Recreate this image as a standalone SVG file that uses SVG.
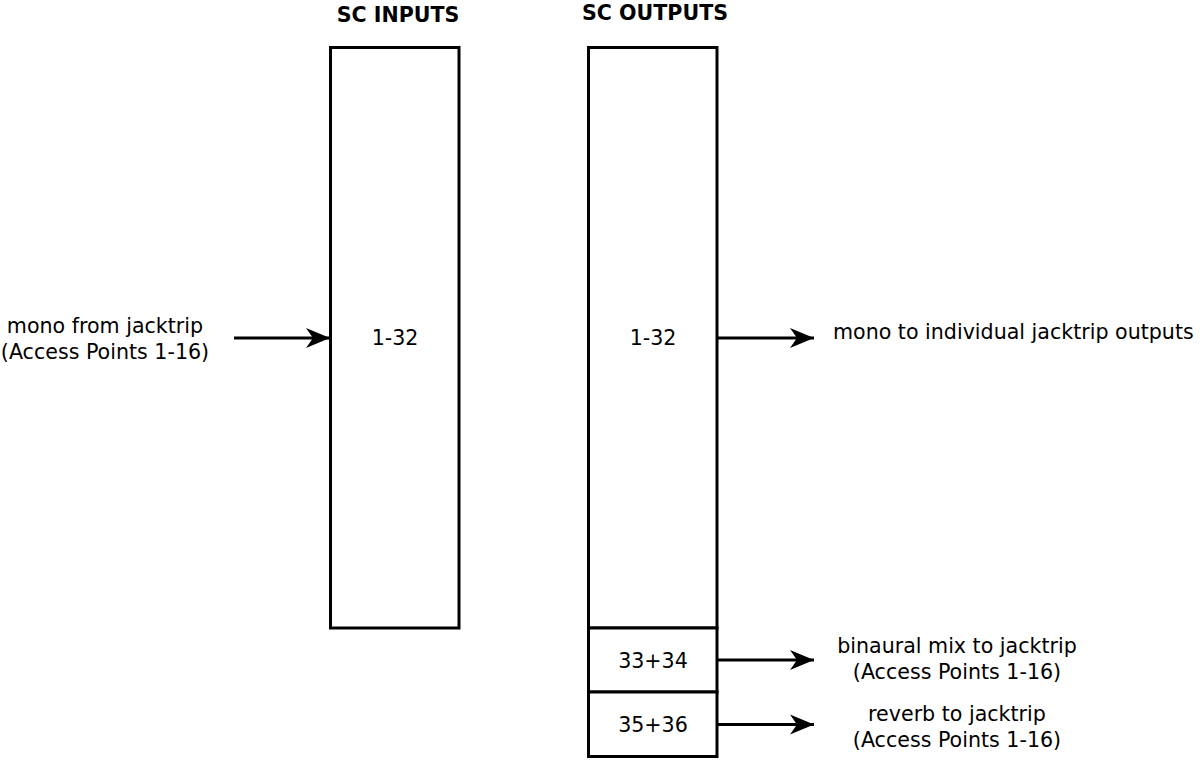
<svg xmlns="http://www.w3.org/2000/svg" width="1200" height="761" viewBox="0 0 1200 761">
<style>
.box{fill:#fff;stroke:#000;stroke-width:3}
.t{font-family:"DejaVu Sans",sans-serif;font-size:20.6px;fill:#000}
.c{text-anchor:middle}
.b{font-weight:bold}
.e{stroke:#000;stroke-width:3;fill:none}
</style>
<defs>
<marker id="ah" markerUnits="userSpaceOnUse" viewBox="0 0 26 24" refX="24" refY="12" markerWidth="26" markerHeight="24" orient="auto">
<path d="M0,2 L24,12 L0,22 L7,12 Z" fill="#000"/>
</marker>
</defs>
<rect width="1200" height="761" fill="#fff"/>
<g id="title-inputs"><text class="t c b" x="398" y="22">SC INPUTS</text></g>
<g id="title-outputs"><text class="t c b" x="655" y="20">SC OUTPUTS</text></g>
<g id="in-1-32"><rect class="box" x="330.5" y="47.5" width="128.5" height="580.5"/><text class="t c" x="395" y="345">1-32</text></g>
<g id="out-1-32"><rect class="box" x="588.5" y="47.5" width="128.5" height="580.5"/><text class="t c" x="653" y="345">1-32</text></g>
<g id="out-33-34"><rect class="box" x="588.5" y="628" width="128.5" height="64"/><text class="t c" x="653" y="668">33+34</text></g>
<g id="out-35-36"><rect class="box" x="588.5" y="692" width="128.5" height="64.5"/><text class="t c" x="653" y="732">35+36</text></g>
<g id="label-in"><text class="t c" x="105" y="333">mono from jacktrip</text><text class="t c" x="105" y="359">(Access Points 1-16)</text></g>
<g id="label-mono-out"><text class="t" x="833" y="339">mono to individual jacktrip outputs</text></g>
<g id="label-binaural"><text class="t c" x="957" y="653">binaural mix to jacktrip</text><text class="t c" x="957" y="679">(Access Points 1-16)</text></g>
<g id="label-reverb"><text class="t c" x="957" y="721">reverb to jacktrip</text><text class="t c" x="957" y="747">(Access Points 1-16)</text></g>
<g id="connectors">
<line class="e" x1="234" y1="338" x2="330" y2="338" marker-end="url(#ah)"/>
<line class="e" x1="717" y1="338" x2="814" y2="338" marker-end="url(#ah)"/>
<line class="e" x1="717" y1="660" x2="814" y2="660" marker-end="url(#ah)"/>
<line class="e" x1="717" y1="724.5" x2="814" y2="724.5" marker-end="url(#ah)"/>
</g>
</svg>
